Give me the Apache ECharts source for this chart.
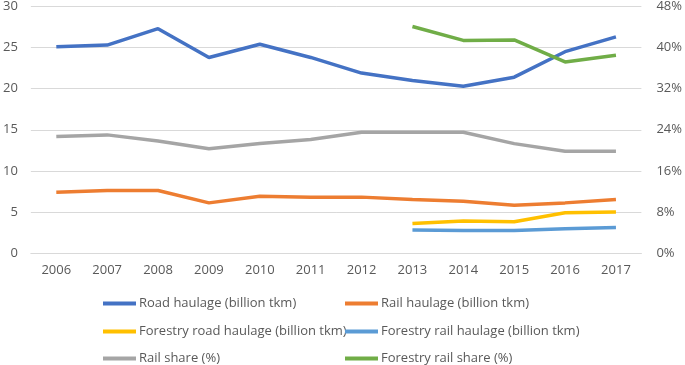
<!DOCTYPE html>
<html><head><meta charset="utf-8">
<script src="https://cdn.jsdelivr.net/npm/echarts@6/dist/echarts.min.js"></script>
<style>html,body{margin:0;padding:0;background:#fff}#c{width:685px;height:365px}</style>
</head><body><div id="c"></div>
<script>
var years = ['2006','2007','2008','2009','2010','2011','2012','2013','2014','2015','2016','2017'];
var roadHaulage = [25.1,25.3,27.3,23.8,25.4,23.8,21.9,21.0,20.3,21.4,24.5,26.3];
var railHaulage = [7.4,7.6,7.6,6.1,6.9,6.8,6.8,6.5,6.3,5.8,6.1,6.5];
var forestryRoad = [null,null,null,null,null,null,null,3.6,3.9,3.8,4.9,5.0];
var forestryRail = [null,null,null,null,null,null,null,2.8,2.75,2.75,2.95,3.1];
var railShare = [22.7,23.0,21.8,20.3,21.3,22.1,23.5,23.5,23.5,21.3,19.8,19.8];
var forestryRailShare = [null,null,null,null,null,null,null,44.1,41.4,41.5,37.2,38.5];
var names = ['Road haulage (billion tkm)','Rail haulage (billion tkm)','Forestry road haulage (billion tkm)','Forestry rail haulage (billion tkm)','Rail share (%)','Forestry rail share (%)'];
var colors = ['#4472C4','#ED7D31','#FFC000','#5B9BD5','#A5A5A5','#70AD47'];
var font = 'Open Sans';
var txt = '#595959';
var chart = echarts.init(document.getElementById('c'));
function ser(i, data, yIdx){
  return {name:names[i], type:'line', data:data, yAxisIndex:yIdx, symbol:'none', connectNulls:false,
    lineStyle:{width:3.5,color:colors[i]}, itemStyle:{color:colors[i]}};
}
var legendPos = [[103,297],[345,297],[103,325],[345,325],[103,352],[345,352]];
var legends = names.map(function(n,i){
  return {data:[n], left:legendPos[i][0], top:legendPos[i][1], icon:'rect', itemWidth:33, itemHeight:4, itemGap:0,
    textStyle:{fontFamily:font,fontSize:13,color:txt,padding:[0,0,0,-2]}, padding:0};
});
chart.setOption({
  animation:false,
  color:colors,
  grid:{left:27,right:38,top:5,bottom:112},
  legend:legends,
  xAxis:{type:'category',data:years,boundaryGap:true,
    axisLine:{show:true,lineStyle:{color:'#D9D9D9',width:1}},axisTick:{show:false},
    axisLabel:{fontFamily:font,fontSize:13,color:txt,margin:11}},
  yAxis:[
    {type:'value',min:0,max:30,interval:5,axisLine:{show:false},axisTick:{show:false},
     splitLine:{lineStyle:{color:'#D9D9D9',width:1}},
     axisLabel:{fontFamily:font,fontSize:13,color:txt,margin:13}},
    {type:'value',min:0,max:48,interval:8,axisLine:{show:false},axisTick:{show:false},
     splitLine:{show:false},
     axisLabel:{fontFamily:font,fontSize:13,color:txt,margin:15,formatter:'{value}%'}}
  ],
  series:[
    ser(0,roadHaulage,0), ser(1,railHaulage,0), ser(2,forestryRoad,0), ser(3,forestryRail,0),
    ser(4,railShare,1), ser(5,forestryRailShare,1)
  ]
});
</script></body></html>
